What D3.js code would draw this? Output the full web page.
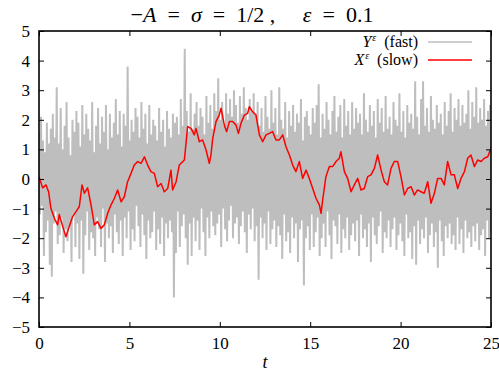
<!DOCTYPE html>
<html lang="en">
<head>
<meta charset="UTF-8">
<title>fast / slow</title>
<style>
  body { margin: 0; background: #fff; }
  text { font-family: "Liberation Serif", "DejaVu Serif", serif; fill: #000; white-space: pre; }
  .it { font-style: italic; }
</style>
</head>
<body>
<script src="https://cdn.jsdelivr.net/npm/d3@7"></script>
<script>
// fast variable Y, sampled evenly over 0..25
var yFast = [
  1.6,-1.2,2.1,-0.9,1.3,-2.6,0.9,-1.8,1.9,-1.4,1.2,-2.9,1.7,-3.3,2.2,-1.5,1.4,-1.1,3.1,-2.2,
  1.2,-1.9,2.4,-1.3,1.0,-2.5,1.8,-1.7,2.6,-2.1,1.4,-1.6,0.8,-2.8,2.0,-1.2,1.6,-2.3,2.3,-1.5,
  1.9,-2.7,1.1,-1.4,2.5,-3.2,1.5,-1.9,2.2,-1.1,1.7,-2.4,1.3,-1.8,2.6,-2.0,0.9,-2.6,1.8,-1.3,
  2.4,-1.7,1.2,-2.3,2.1,-1.0,1.6,-2.8,2.5,-1.5,1.0,-2.0,2.2,-1.6,1.4,-2.5,1.9,-1.2,2.7,-1.8,
  1.5,-2.2,2.3,-1.4,1.1,-2.6,2.2,-1.3,1.8,-2.0,3.8,-1.1,1.3,-2.4,2.0,-1.7,1.6,-2.1,2.4,-0.9,
  2.1,-1.6,1.4,-2.3,2.6,-1.2,1.7,-1.9,2.2,-2.7,1.2,-1.4,2.5,-2.0,1.5,-1.8,2.0,-1.1,1.8,-2.4,
  1.3,-1.7,2.4,-2.2,1.6,-1.3,2.0,-2.6,1.1,-1.5,2.3,-2.0,1.7,-1.4,1.4,-1.8,2.2,-4.0,1.9,-2.5,
  2.1,-1.1,1.5,-2.3,2.7,-1.6,1.8,-1.2,4.4,-2.0,2.3,-2.9,1.6,-1.5,2.9,-2.6,1.7,-1.3,2.2,-2.1,
  2.6,-1.4,1.8,-2.4,2.4,-1.0,2.1,-1.8,1.5,-2.6,2.8,-1.3,1.9,-2.0,2.5,-1.1,1.7,-1.6,2.9,-1.9,
  2.3,-1.5,3.4,-1.2,2.0,-2.3,2.6,-1.0,1.8,-1.7,2.9,-2.1,2.2,-1.4,2.7,-0.9,2.1,-2.0,3.0,-1.5,
  2.5,-1.3,1.9,-2.2,2.8,-1.6,2.2,-1.1,3.1,-1.8,2.4,-2.5,2.0,-1.2,2.7,-1.7,2.3,-1.0,2.9,-2.1,
  2.2,-1.6,2.6,-3.4,1.8,-1.3,2.4,-2.0,1.6,-1.5,2.8,-2.4,2.1,-1.1,1.7,-2.2,3.0,-1.7,1.9,-1.4,
  2.4,-2.3,1.5,-1.6,3.1,-1.9,2.0,-2.7,1.7,-1.2,2.6,-2.1,1.4,-1.8,2.3,-2.5,1.8,-1.3,2.5,-2.0,
  1.6,-1.5,2.2,-2.8,1.9,-1.7,2.7,-1.4,1.3,-3.6,2.1,-2.0,2.3,-1.6,1.8,-2.4,1.5,-1.2,2.4,-2.3,
  1.9,-1.8,2.5,-1.3,3.2,-2.6,1.4,-2.0,2.2,-1.5,1.7,-2.3,2.6,-1.1,2.0,-1.9,1.5,-2.7,2.3,-1.4,
  2.8,-1.6,1.6,-2.2,2.1,-1.2,2.5,-2.5,1.4,-1.7,2.7,-2.0,1.8,-1.3,2.3,-2.4,1.5,-1.9,2.6,-1.5,
  1.7,-2.1,2.4,-1.4,1.9,-2.6,2.2,-1.2,1.5,-2.0,2.9,-1.7,2.0,-2.3,1.6,-1.5,2.5,-2.8,1.8,-1.3,
  2.3,-1.9,1.4,-2.2,2.7,-1.6,1.9,-1.1,2.4,-2.5,1.6,-1.8,2.8,-2.0,1.7,-1.4,2.1,-2.3,1.5,-1.7,
  2.6,-1.3,2.0,-2.4,1.8,-1.9,2.9,-1.5,1.6,-2.1,2.3,-2.6,1.4,-1.2,2.5,-2.0,1.9,-1.8,2.2,-2.7,
  1.7,-1.6,3.3,-2.9,2.1,-1.4,1.5,-2.2,2.7,-1.7,3.3,-2.0,1.8,-1.3,2.4,-2.5,1.6,-1.9,2.8,-1.5,
  2.0,-2.3,1.7,-1.8,2.5,-3.0,1.9,-1.4,2.2,-2.1,1.5,-2.6,2.6,-1.6,1.8,-2.0,2.3,-1.5,2.9,-2.2,
  1.6,-1.9,2.4,-2.4,2.0,-1.3,2.7,-2.2,1.8,-1.7,2.5,-2.5,1.9,-1.4,2.2,-2.0,3.0,-1.8,1.7,-2.3,
  2.6,-1.6,2.1,-2.1,3.1,-1.5,1.9,-2.4,2.4,-1.9,2.0,-1.7,2.7,-2.6,1.8,-1.4,2.3,-2.0,2.5,-1.8
];

// slow variable X, times and values
var xTime = [
  0,0.20,0.39,0.53,0.66,0.85,1.03,1.12,1.31,1.49,1.68,1.86,2.05,2.23,2.38,2.51,2.69,2.88,3.06,3.24,
  3.43,3.61,3.80,3.98,4.17,4.35,4.54,4.72,4.90,5.09,5.27,5.46,5.64,5.83,6.01,6.19,6.38,6.56,6.75,6.93,
  7.12,7.30,7.39,7.58,7.76,8.04,8.13,8.22,8.41,8.59,8.68,8.87,9.05,9.24,9.42,9.51,9.61,9.79,9.97,10.07,
  10.25,10.38,10.53,10.71,10.90,11.03,11.17,11.36,11.54,11.63,11.82,12.00,12.19,12.37,12.56,12.74,12.92,13.11,13.29,13.48,
  13.66,13.85,14.03,14.21,14.40,14.58,14.77,14.95,15.14,15.32,15.51,15.60,15.69,15.87,16.06,16.24,16.43,16.61,16.70,16.89,
  17.07,17.26,17.44,17.63,17.81,17.99,18.18,18.36,18.55,18.73,18.92,19.10,19.28,19.47,19.65,19.84,20.02,20.21,20.39,20.58,
  20.76,20.94,21.13,21.31,21.50,21.68,21.87,22.05,22.24,22.42,22.60,22.79,22.97,23.16,23.34,23.53,23.71,23.89,24.08,24.26,
  24.45,24.63,24.82,25.00
];
var xSlow = [
  0.08,-0.30,-0.20,-0.43,-1.00,-1.33,-1.55,-1.20,-1.60,-1.95,-1.60,-1.27,-1.10,-0.93,-0.20,-0.48,-0.30,-0.88,-1.55,-1.44,
  -1.67,-1.55,-1.16,-0.88,-0.65,-0.37,-0.77,-0.60,-0.09,0.19,0.47,0.59,0.53,0.75,0.47,0.25,0.19,-0.26,-0.15,-0.43,
  -0.32,0.30,-0.37,-0.10,0.47,0.64,1.20,1.77,1.71,1.49,1.71,1.26,1.32,0.98,0.53,0.81,1.37,1.94,2.16,2.39,
  1.82,1.60,1.94,1.94,1.82,1.54,1.88,2.16,2.22,2.44,2.27,2.16,1.49,1.26,1.49,1.54,1.60,1.32,1.32,1.49,
  1.09,0.81,0.47,0.25,0.59,0.02,0.30,0.02,-0.32,-0.65,-0.88,-1.16,-0.71,0.08,0.42,0.42,0.59,0.70,0.92,0.25,
  0.02,-0.43,-0.20,0.02,-0.37,-0.32,0.08,0.14,0.36,0.81,0.30,-0.09,-0.20,0.36,0.59,0.59,0.08,-0.54,-0.32,-0.26,
  -0.54,-0.37,-0.43,-0.48,-0.09,-0.82,-0.48,0.02,0.02,-0.20,0.59,0.14,0.14,-0.32,0.02,0.25,0.70,0.81,0.42,0.64,
  0.59,0.70,0.75,1.04
];

var xTicks = [0, 5, 10, 15, 20, 25];
var yTicks = [-5, -4, -3, -2, -1, 0, 1, 2, 3, 4, 5];

var W = 499, H = 371,
    mLeft = 39, mRight = 491, mTop = 31, mBottom = 327;

var svg = d3.select('body').append('svg')
    .attr('width', W)
    .attr('height', H);

var x = d3.scaleLinear().domain([0, 25]).range([mLeft, mRight]),
    y = d3.scaleLinear().domain([-5, 5]).range([mBottom, mTop]);

var dt = 25 / (yFast.length - 1);

svg.append('defs').append('clipPath').attr('id', 'plot')
  .append('rect')
    .attr('x', mLeft).attr('y', mTop)
    .attr('width', mRight - mLeft).attr('height', mBottom - mTop);

var line = d3.line()
    .x(function(d) { return x(d[0]); })
    .y(function(d) { return y(d[1]); });

svg.append('path')
    .datum(yFast.map(function(v, i) { return [i * dt, v]; }))
    .attr('clip-path', 'url(#plot)')
    .attr('fill', 'none')
    .attr('stroke', '#bebebe')
    .attr('stroke-width', 2)
    .attr('d', line);

svg.append('path')
    .datum(xSlow.map(function(v, i) { return [xTime[i], v]; }))
    .attr('clip-path', 'url(#plot)')
    .attr('fill', 'none')
    .attr('stroke', '#ff0000')
    .attr('stroke-width', 1.5)
    .attr('stroke-linejoin', 'round')
    .attr('d', line);

// axes: gnuplot style, ticks inward on all four sides
var tick = 5;
var fmt = function(d) { return d < 0 ? '\u2212' + (-d) : '' + d; };

svg.append('g')
    .attr('transform', 'translate(0,' + mBottom + ')')
    .call(d3.axisBottom(x).tickValues(xTicks).tickSize(-tick).tickPadding(10).tickFormat(fmt));
svg.append('g')
    .attr('transform', 'translate(0,' + mTop + ')')
    .call(d3.axisTop(x).tickValues(xTicks).tickSize(-tick).tickFormat(''));
svg.append('g')
    .attr('transform', 'translate(' + mLeft + ',0)')
    .call(d3.axisLeft(y).tickValues(yTicks).tickSize(-tick).tickPadding(9).tickFormat(fmt));
svg.append('g')
    .attr('transform', 'translate(' + mRight + ',0)')
    .call(d3.axisRight(y).tickValues(yTicks).tickSize(-tick).tickFormat(''));

svg.selectAll('.domain').remove();
svg.selectAll('.tick line').attr('stroke', '#000').attr('stroke-width', 1);
svg.selectAll('.tick text')
    .attr('fill', '#000')
    .style('font-family', '"Liberation Serif", serif')
    .style('font-size', '17px');

svg.append('rect')
    .attr('x', mLeft).attr('y', mTop)
    .attr('width', mRight - mLeft).attr('height', mBottom - mTop)
    .attr('fill', 'none')
    .attr('stroke', '#000')
    .attr('stroke-width', 1.6);

// x label
svg.append('text')
    .attr('class', 'it')
    .attr('x', (mLeft + mRight) / 2)
    .attr('y', 368)
    .attr('text-anchor', 'middle')
    .style('font-size', '18px')
    .text('t');

// title
var title = svg.append('text')
    .attr('x', 252)
    .attr('y', 22)
    .attr('text-anchor', 'middle')
    .style('font-size', '22px');
title.append('tspan').text('\u2212');
title.append('tspan').attr('class', 'it').text('A');
title.append('tspan').text('  =  ');
title.append('tspan').attr('class', 'it').text('\u03c3');
title.append('tspan').text('  =  1/2 ,     ');
title.append('tspan').attr('class', 'it').text('\u03b5');
title.append('tspan').text('  =  0.1');

// legend: one text per row, symbol with superscript then label
var legend = [
  { name: 'Y', label: '(fast)', color: '#bebebe', y: 42 },
  { name: 'X', label: '(slow)', color: '#ff0000', y: 60 }
];

legend.forEach(function(d) {
  var t = svg.append('text')
      .attr('x', 418)
      .attr('y', d.y + 5)
      .attr('text-anchor', 'end')
      .style('font-size', '16px');
  t.append('tspan').attr('class', 'it').text(d.name);
  t.append('tspan').attr('class', 'it').attr('dy', -6).attr('dx', 1).style('font-size', '10px').text('\u03b5');
  t.append('tspan').attr('dy', 6).text('  ' + d.label);

  svg.append('line')
      .attr('x1', 428).attr('x2', 472)
      .attr('y1', d.y).attr('y2', d.y)
      .attr('stroke', d.color)
      .attr('stroke-width', 1.5);
});
</script>
</body>
</html>
